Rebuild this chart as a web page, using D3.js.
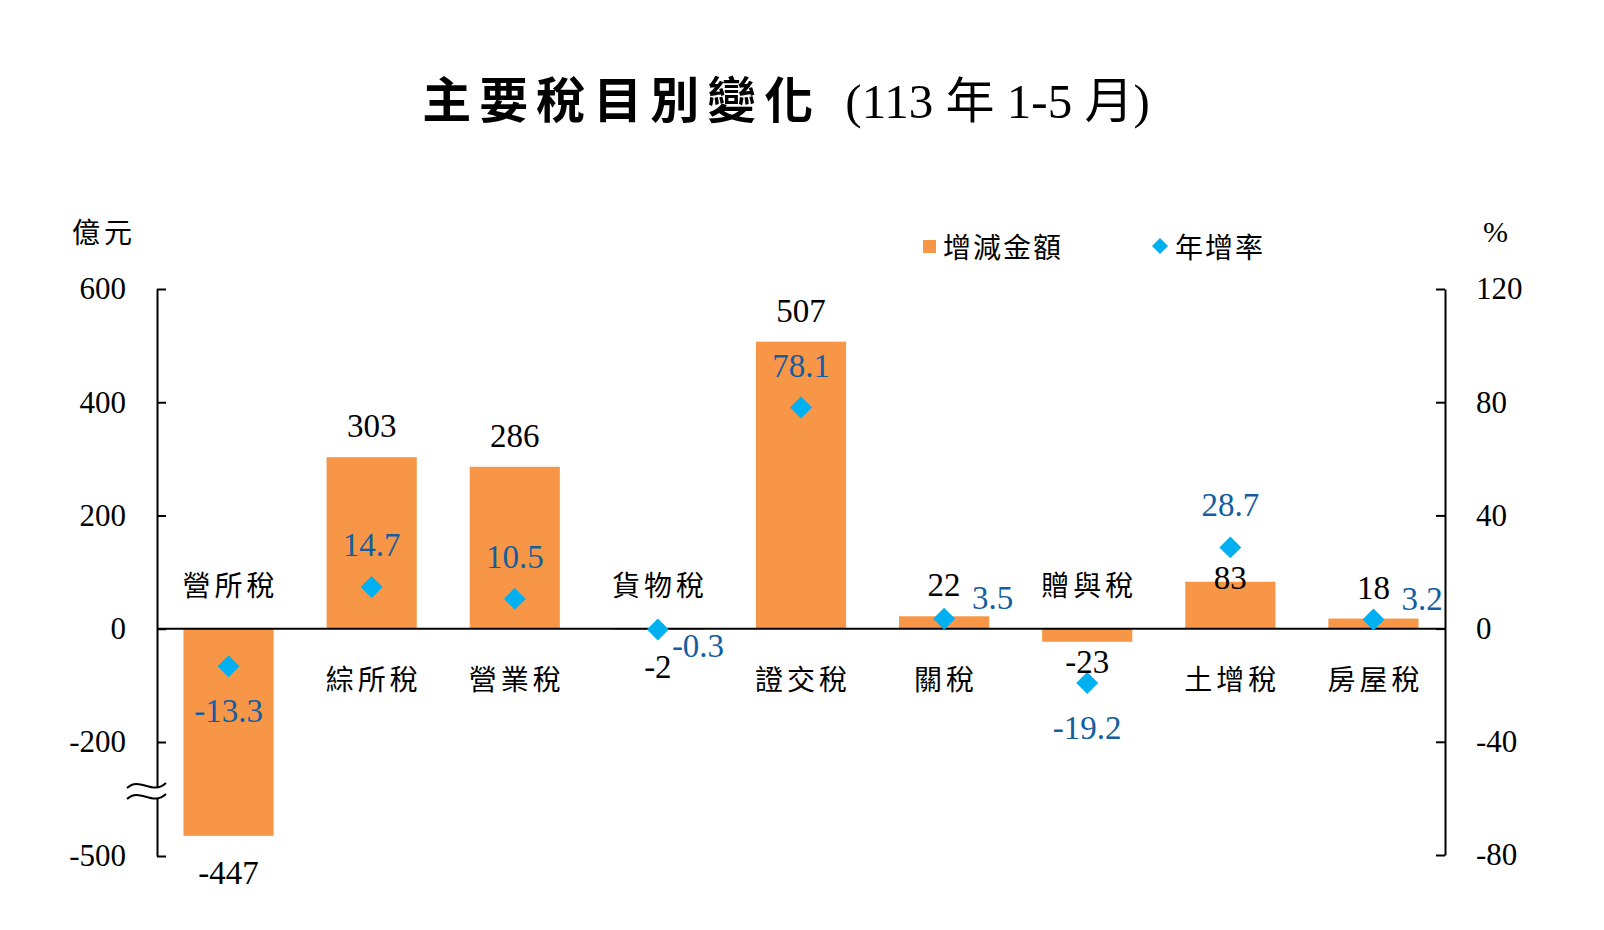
<!DOCTYPE html>
<html>
<head>
<meta charset="utf-8">
<script src="https://cdn.jsdelivr.net/npm/d3@7.9.0/dist/d3.min.js"></script>
<style>
  body { margin: 0; background: #fff; }
</style>
</head>
<body>
<svg id="chart" width="1604" height="930"></svg>
<script>
// data
const categories = ["營所稅", "綜所稅", "營業稅", "貨物稅", "證交稅", "關稅", "贈與稅", "土增稅", "房屋稅"];
const amounts = [-447, 303, 286, -2, 507, 22, -23, 83, 18];        // 增減金額 (億元)
const growthRates = [-13.3, 14.7, 10.5, -0.3, 78.1, 3.5, -19.2, 28.7, 3.2]; // 年增率 (%)
const leftTicks = [600, 400, 200, 0, -200, -500];
const rightTicks = [120, 80, 40, 0, -40, -80];

const SERIF = "'Liberation Serif', 'Times New Roman', serif";
const CJK = "'Noto Sans CJK TC', 'Noto Sans CJK SC', sans-serif";
const MIXED = "'Liberation Serif', 'Noto Sans CJK TC', serif";
const BAR = "#F79646", DOT = "#00B0F0", BLUE = "#135EA0";

const svg = d3.select("#chart");
const plotL = 157, plotR = 1445, plotT = 289, plotB = 856;

const x = d3.scaleBand().domain(categories).range([plotL, plotR])
  .paddingInner(0.37).paddingOuter(0.185);
// broken axis: -500..-200 squeezed into one 200-step
const yL = d3.scaleLinear().domain([-500, -200, 600]).range([plotB, 742, plotT]);
const yR = d3.scaleLinear().domain([-80, 120]).range([855, plotT]);
const y0 = yL(0);

// plain hyphen for negatives, like the original
const fmtInt = d => String(d);
const fmtPct = d => d.toFixed(1);

// title
const title = svg.append("text")
  .attr("x", 786).attr("y", 118)
  .attr("text-anchor", "middle")
  .attr("font-family", MIXED)
  .attr("font-size", 49);
title.append("tspan").attr("font-family", CJK).attr("font-weight", 700)
  .attr("letter-spacing", 8).text("主要稅目別變化");
title.append("tspan").attr("dx", 24).text("(113 年 1-5 月)");

// unit labels
svg.append("text").attr("x", 72).attr("y", 233).attr("dy", "0.36em")
  .attr("font-family", CJK).attr("font-size", 28).attr("letter-spacing", 4)
  .text("億元");
svg.append("text").attr("x", 1483).attr("y", 231).attr("dy", "0.35em")
  .attr("font-family", SERIF).attr("font-size", 30).text("%");

// legend
svg.append("rect").attr("x", 923).attr("y", 240).attr("width", 13).attr("height", 13).attr("fill", BAR);
svg.append("text").attr("x", 943).attr("y", 248).attr("dy", "0.36em")
  .attr("font-family", CJK).attr("font-size", 28).attr("letter-spacing", 2).text("增減金額");
svg.append("path").attr("d", d3.symbol(d3.symbolSquare, 128)())
  .attr("transform", "translate(1160,246) rotate(45)").attr("fill", DOT);
svg.append("text").attr("x", 1175).attr("y", 248).attr("dy", "0.36em")
  .attr("font-family", CJK).attr("font-size", 28).attr("letter-spacing", 2).text("年增率");

// axes
const axisL = svg.append("g").attr("transform", `translate(${plotL},0)`)
  .call(d3.axisLeft(yL).tickValues(leftTicks).tickFormat(fmtInt)
    .tickSizeInner(-9).tickSizeOuter(0).tickPadding(31));
const axisR = svg.append("g").attr("transform", `translate(${plotR},0)`)
  .call(d3.axisRight(yR).tickValues(rightTicks).tickFormat(fmtInt)
    .tickSizeInner(-9).tickSizeOuter(0).tickPadding(31));
[axisL, axisR].forEach(g => {
  g.selectAll("path, line").attr("stroke", "#000").attr("stroke-width", 2);
  g.selectAll("text").attr("font-family", SERIF).attr("font-size", 31).attr("fill", "#000");
});

// axis break mark
const bx0 = plotL - 30, bx1 = plotL + 9;
const wave = (yy) => `M${bx0},${yy} C${bx0 + 13},${yy - 12} ${bx1 - 14},${yy + 8} ${bx1},${yy - 5}`;
svg.append("path")
  .attr("d", `${wave(788)} L${bx1},${794} C${bx1 - 14},${807} ${bx0 + 13},${787} ${bx0},${799} Z`)
  .attr("fill", "#fff");
svg.selectAll(".brk").data([788, 799]).join("path")
  .attr("d", d => wave(d)).attr("fill", "none").attr("stroke", "#000").attr("stroke-width", 2);

// bars
svg.selectAll(".bar").data(amounts).join("rect")
  .attr("x", (d, i) => x(categories[i]))
  .attr("width", x.bandwidth())
  .attr("y", d => Math.min(yL(d), y0))
  .attr("height", d => Math.abs(yL(d) - y0))
  .attr("fill", BAR);

// zero line
svg.append("line").attr("x1", plotL).attr("x2", plotR).attr("y1", y0).attr("y2", y0)
  .attr("stroke", "#000").attr("stroke-width", 2);

const cx = i => x(categories[i]) + x.bandwidth() / 2;

// diamonds
svg.selectAll(".dot").data(growthRates).join("path")
  .attr("d", d3.symbol(d3.symbolSquare, 240)())
  .attr("transform", (d, i) => `translate(${cx(i)},${yR(d)}) rotate(45)`)
  .attr("fill", DOT);

// category labels: under the axis for gains, above it for falls
svg.selectAll(".cat").data(categories).join("text")
  .attr("x", (d, i) => cx(i) + 2)
  .attr("y", (d, i) => amounts[i] >= 0 ? y0 + 51 : y0 - 43)
  .attr("dy", "0.36em")
  .attr("text-anchor", "middle")
  .attr("font-family", CJK).attr("font-size", 28).attr("letter-spacing", 4)
  .text(d => d);

// amount labels, moved off the diamond when they would sit on it
function amountBaseline(i) {
  const v = amounts[i], dv = yR(growthRates[i]);
  let b = v >= 0 ? yL(v) - 20 : yL(v) + 48;
  if (dv > b - 34 && dv < b + 11) b = v >= 0 ? dv + 42 : dv - 10;
  return b;
}
svg.selectAll(".amt").data(amounts).join("text")
  .attr("x", (d, i) => cx(i))
  .attr("y", (d, i) => amountBaseline(i))
  .attr("text-anchor", "middle")
  .attr("font-family", SERIF).attr("font-size", 33).attr("fill", "#000")
  .text(fmtInt);

// growth labels
svg.selectAll(".pct").data(growthRates).join("text")
  .each(function (p, i) {
    const t = d3.select(this), py = yR(p);
    if (Math.abs(p) < 5) {
      t.attr("text-anchor", "start")
        .attr("x", cx(i) + (p >= 0 ? 28 : 14))
        .attr("y", p >= 0 ? py - 10 : py + 28);
    } else {
      t.attr("text-anchor", "middle").attr("x", cx(i))
        .attr("y", p > 0 ? py - 31 : py + 56);
    }
  })
  .attr("font-family", SERIF).attr("font-size", 33).attr("fill", BLUE)
  .text(fmtPct);
</script>
</body>
</html>
